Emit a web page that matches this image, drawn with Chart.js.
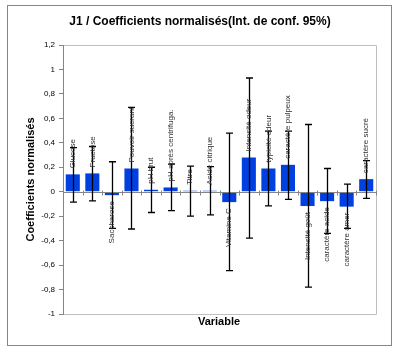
<!DOCTYPE html>
<html><head><meta charset="utf-8">
<script src="https://cdn.jsdelivr.net/npm/chart.js@4.4.1/dist/chart.umd.min.js"></script>
<style>html,body{margin:0;padding:0;background:#fff}#w{position:relative;width:399px;height:351px}</style>
</head><body><div id="w"><canvas id="c" width="399" height="351"></canvas></div>
<script>
const categories = ['Glucose','Fructose','Saccharose','Pouvoir sucrant','pH brut','pH après centrifuga.','Titre','Acide citrique','Vitamine C','Intensité odeur','typicité odeur','caractère pulpeux','Intensité goût','caractère acide','caractère amer','caractère sucré'];
const coefficients = [0.142, 0.150, -0.028, 0.190, 0.016, 0.035, 0.008, 0.008, -0.085, 0.280, 0.190, 0.220, -0.117, -0.077, -0.122, 0.103];
const lowerBounds = [-0.085, -0.074, -0.300, -0.305, -0.170, -0.155, -0.200, -0.190, -0.645, -0.380, -0.115, -0.063, -0.780, -0.340, -0.300, -0.055];
const upperBounds = [0.360, 0.370, 0.245, 0.690, 0.200, 0.225, 0.210, 0.205, 0.480, 0.930, 0.495, 0.495, 0.550, 0.190, 0.062, 0.255];
const yTicks = [-1,-0.8,-0.6,-0.4,-0.2,0,0.2,0.4,0.6,0.8,1,1.2];
const chartTitle = 'J1 / Coefficients normalisés(Int. de conf. 95%)';
const yTitle = 'Coefficients normalisés';
const xTitle = 'Variable';

const FONT = '"Liberation Sans", Arial, sans-serif';

const deco = {
  id: 'deco',
  beforeDraw(chart) {
    const ctx = chart.ctx, a = chart.chartArea;
    ctx.save();
    ctx.fillStyle = '#fff';
    ctx.fillRect(0,0,chart.width,chart.height);
    ctx.strokeStyle = '#868686';
    ctx.lineWidth = 1;
    ctx.strokeRect(7.5, 5.5, 384, 340);
    ctx.strokeStyle = '#c0c0c0';
    ctx.beginPath();
    ctx.moveTo(a.left, a.top + 0.5); ctx.lineTo(a.right + 0.5, a.top + 0.5);
    ctx.lineTo(a.right + 0.5, a.bottom + 0.5); ctx.lineTo(a.left, a.bottom + 0.5);
    ctx.stroke();
    ctx.restore();
  },
  afterDatasetsDraw(chart) {
    const ctx = chart.ctx, a = chart.chartArea;
    const x = chart.scales.x, y = chart.scales.y;
    const meta = chart.getDatasetMeta(0);
    ctx.save();
    // zero axis with tick marks
    const y0 = Math.round(y.getPixelForValue(0)) + 0.5;
    ctx.strokeStyle = '#868686';
    ctx.lineWidth = 1;
    ctx.beginPath();
    ctx.moveTo(a.left, y0); ctx.lineTo(a.right, y0);
    const n = categories.length;
    for (let i = 0; i <= n; i++) {
      const px = Math.round(a.left + (a.right - a.left) * i / n) + 0.5;
      ctx.moveTo(px, y0 - 2); ctx.lineTo(px, y0 + 3);
    }
    ctx.stroke();
    // error bars
    ctx.strokeStyle = '#000';
    ctx.lineWidth = 1.3;
    meta.data.forEach((bar, i) => {
      const cx = Math.round(bar.x) + 0.5;
      const yl = y.getPixelForValue(lowerBounds[i]);
      const yh = y.getPixelForValue(upperBounds[i]);
      ctx.beginPath();
      ctx.moveTo(cx, yl); ctx.lineTo(cx, yh);
      ctx.moveTo(cx - 3.5, yl); ctx.lineTo(cx + 3.5, yl);
      ctx.moveTo(cx - 3.5, yh); ctx.lineTo(cx + 3.5, yh);
      ctx.stroke();
    });
    // bar labels
    ctx.fillStyle = '#333';
    ctx.font = '8px ' + FONT;
    meta.data.forEach((bar, i) => {
      const v = coefficients[i];
      ctx.save();
      ctx.translate(bar.x, bar.y);
      ctx.rotate(-Math.PI / 2);
      ctx.textBaseline = 'middle';
      if (v >= 0) { ctx.textAlign = 'left'; ctx.fillText(categories[i], 6, 0); }
      else { ctx.textAlign = 'right'; ctx.fillText(categories[i], -6, 0); }
      ctx.restore();
    });
    // titles
    ctx.fillStyle = '#000';
    ctx.textAlign = 'center';
    ctx.textBaseline = 'middle';
    ctx.font = 'bold 12px ' + FONT;
    ctx.fillText(chartTitle, 200, 22);
    ctx.font = 'bold 11px ' + FONT;
    ctx.fillText(xTitle, 219, 322);
    ctx.save();
    ctx.translate(31, (a.top + a.bottom) / 2);
    ctx.rotate(-Math.PI / 2);
    ctx.fillText(yTitle, 0, 0);
    ctx.restore();
    ctx.restore();
  }
};

new Chart(document.getElementById('c'), {
  type: 'bar',
  data: {
    labels: categories,
    datasets: [{
      data: coefficients,
      backgroundColor: '#0040e0',
      borderWidth: 0,
      categoryPercentage: 1,
      barPercentage: 0.72
    }]
  },
  options: {
    responsive: false,
    animation: false,
    devicePixelRatio: 1,
    layout: { padding: { left: 0, top: 45, right: 23, bottom: 37 } },
    plugins: { legend: { display: false }, title: { display: false }, tooltip: { enabled: false } },
    scales: {
      x: { display: false },
      y: {
        min: -1, max: 1.2,
        afterFit(s) { s.width = 63; },
        afterBuildTicks(s) { s.ticks = yTicks.map(v => ({ value: v })); },
        ticks: {
          color: '#000',
          font: { size: 8, family: FONT },
          padding: 4,
          callback: v => String(Math.round(v * 10) / 10).replace('.', ',')
        },
        grid: { drawOnChartArea: false, tickLength: 4, color: '#868686' },
        border: { color: '#868686' }
      }
    }
  },
  plugins: [deco]
});
</script></body></html>
